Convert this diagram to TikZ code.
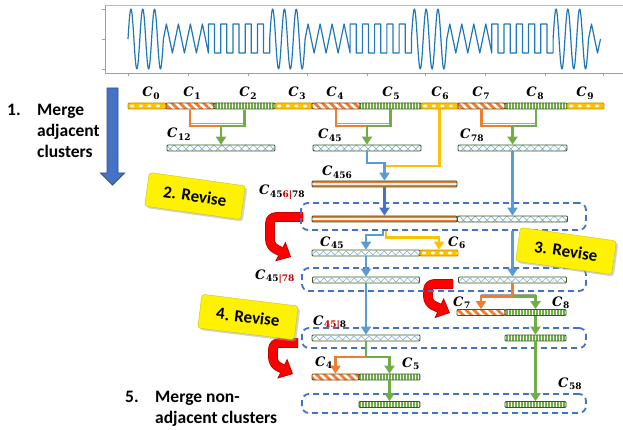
\documentclass[tikz,border=0pt]{standalone}
\usepackage{fontspec}
\newfontfamily\cfont{Carlito}
\newfontfamily\lfont{DejaVu Serif}
\usetikzlibrary{arrows.meta,patterns.meta,shadows}

\definecolor{sigblue}{HTML}{1F77B4}
\definecolor{corange}{HTML}{ED7D31}
\definecolor{cgreen}{HTML}{70AD47}
\definecolor{cblue}{HTML}{5B9BD5}
\definecolor{dblue}{HTML}{4472C4}
\definecolor{cyellow}{HTML}{FFC000}
\definecolor{barline}{HTML}{385723}
\definecolor{ybarline}{HTML}{BF9000}
\definecolor{obarline}{HTML}{843C0C}
\definecolor{darkred}{HTML}{C00000}
\definecolor{axisgray}{HTML}{A0A0A0}

% cluster label: bold italic C with a bold subscript
\newcommand\Csub[1]{{\lfont\bfseries\itshape C}\kern0.6pt\raisebox{-2.6pt}{\lfont\fontsize{9}{9}\selectfont\bfseries #1}}

% one period group of the signal: sine, triangle, square
\newcommand\siggroup[1]{%
  \draw[sig] plot[domain=0:35.4,samples=71] ({#1+\x},{39-30*sin(\x*360/11.8)})
    \foreach \k in {0,...,3} { -- ({#1+35.4+12*\k+3},24) -- ({#1+35.4+12*\k+9},53) }
    \foreach \k in {0,...,4} { -- ({#1+80.4+12.26*\k},24) -- ({#1+80.4+12.26*\k+6.13},24)
                               -- ({#1+80.4+12.26*\k+6.13},53) -- ({#1+80.4+12.26*(\k+1)},53) }
    -- ({#1+141.7},39);}

\tikzset{
  sig/.style={sigblue, line width=1.2pt, line join=round},
  cbar/.style={draw=barline, line width=0.8pt, inner sep=0pt, minimum height=6pt, rounded corners=1pt},
  cybar/.style={cbar, draw=ybarline, path picture={
      \fill[cyellow] (path picture bounding box.south west) rectangle (path picture bounding box.north east);
      \foreach \k in {0,...,9}
        \fill[white] ([xshift=\k*8.6pt+2.2pt,yshift=1.7pt]path picture bounding box.south west) rectangle ++(4pt,2.6pt);}},
  cobar/.style={cbar, draw=obarline, pattern={Lines[angle=-45,distance=5.6pt,line width=2.8pt]}, pattern color=corange},
  cgbar/.style={cbar, pattern={Lines[angle=90,distance=3pt,line width=1.4pt]}, pattern color=cgreen},
  cxbar/.style={cbar, pattern={Hatch[angle=45,distance=5.6pt,line width=0.6pt]}, pattern color=cblue!80},
  czbar/.style={cbar, path picture={
      \draw[cblue!80, line width=0.6pt, sharp corners] ([yshift=1pt]path picture bounding box.south west)
        \foreach \k in {1,...,16} { -- ++(3.8pt,4pt) -- ++(3.8pt,-4pt) };}},
  csbar/.style={cbar, path picture={
      \fill[corange] (path picture bounding box.south west) rectangle (path picture bounding box.north east);
      \draw[corange!12, line width=1.6pt] (path picture bounding box.west) -- (path picture bounding box.east);}},
  ol/.style={corange, line width=2.6pt},
  gl/.style={cgreen, line width=2.6pt},
  bl/.style={cblue, line width=2.6pt},
  yl/.style={cyellow, line width=2.6pt},
  dbl/.style={dblue, line width=2.6pt},
  headed/.style={-{Triangle[width=10pt,length=8pt]}},
  gthin/.style={gray!70, line width=0.6pt},
  dbox/.style={draw=dblue, dash pattern=on 6pt off 4pt, line width=1.8pt, rounded corners=7pt, inner sep=0pt},
  sticky/.style={fill=yellow, draw=yellow!75!black, line width=0.4pt, rounded corners=3pt,
      minimum width=97pt, minimum height=34pt, inner sep=0pt,
      font=\cfont\bfseries\fontsize{17}{20}\selectfont,
      drop shadow={shadow xshift=2pt, shadow yshift=-2pt, fill=black!35}},
  lab/.style={inner sep=0pt, font=\fontsize{13}{15}\selectfont},
  ltext/.style={inner sep=0pt, anchor=base west, font=\cfont\bfseries\fontsize{17.5}{20}\selectfont},
  redarr/.style={rounded corners=6pt},
}

\begin{document}
\begin{tikzpicture}[x=1pt,y=-1pt]
\useasboundingbox (0,0) rectangle (623,430);

% ---- signal plot ----
\draw[axisgray!70, line width=0.8pt] (105,5) -- (623,5);
\draw[axisgray, line width=0.8pt] (105,5) -- (105,73) -- (623,73);
\foreach \yy in {9,39,69} \draw[axisgray, line width=0.8pt] (105,\yy) -- (102,\yy);
\foreach \xx in {128,188,248,307,367,425,485,545,603} \draw[axisgray, line width=0.8pt] (\xx,73) -- (\xx,76);
\siggroup{128}
\siggroup{269.7}
\siggroup{411.4}
\draw[sig] plot[domain=0:35.4,samples=71] ({553.1+\x},{39-30*sin(\x*360/11.8)})
  -- (591.5,24) -- (597.5,53) -- (600.5,39);

% ---- step 1 arrow and texts ----
\draw[fill=dblue, draw=dblue!70!black, line width=0.8pt]
  (107,88) -- (118,88) -- (118,173) -- (124.5,173) -- (112.5,185) -- (100.5,173) -- (107,173) -- cycle;
\node[ltext] (n1) at (7,116) {1.};
\node[ltext] (t1a) at (37,116) {Merge};
\node[ltext] (t1b) at (37,137) {adjacent};
\node[ltext] (t1c) at (37,158) {clusters};
\node[ltext] (n5) at (125,402) {5.};
\node[ltext] (t5a) at (155,402) {Merge non-};
\node[ltext] (t5b) at (155,423) {adjacent clusters};

% ---- initial clusters ----
\node[cybar, minimum width=38pt] (c0) at (147,106) {};
\node[cobar, minimum width=48pt] (c1) at (190,106) {};
\node[cgbar, minimum width=61pt] (c2) at (244.5,106) {};
\node[cybar, minimum width=37pt] (c3) at (293.5,106) {};
\node[cobar, minimum width=48pt] (c4) at (336,106) {};
\node[cgbar, minimum width=61pt] (c5) at (390.5,106) {};
\node[cybar, minimum width=37pt] (c6) at (439.5,106) {};
\node[cobar, minimum width=47pt] (c7) at (481.5,106) {};
\node[cgbar, minimum width=62pt] (c8) at (536,106) {};
\node[cybar, minimum width=37pt] (c9) at (585.5,106) {};
\foreach \i/\xx in {0/151,1/192,2/248,3/297,4/335,5/391,6/440,7/481,8/535,9/585}
  \node[lab, anchor=base] (l\i) at (\xx,97) {\Csub{\i}};

% ---- adjacent merges ----
\node[cxbar, minimum width=108pt] (c12) at (221,148) {};
\node[cxbar, minimum width=108pt] (c45) at (367,148) {};
\node[cxbar, minimum width=109pt] (c78) at (512.5,148) {};
\node[lab, anchor=base west] (l12) at (167,138) {\Csub{12}};
\node[lab, anchor=base west] (l45) at (318,139) {\Csub{45}};
\node[lab, anchor=base west] (l78) at (460,139) {\Csub{78}};

\coordinate (j12) at (221,126);   \coordinate (g12) at (221,123.5);
\coordinate (j45) at (367,126);   \coordinate (g45) at (367,123.5);
\coordinate (j78) at (512.5,126); \coordinate (g78) at (512.5,123.5);
\draw[gthin] (c1.south |- g12) -- (c2.south |- g12);
\draw[gthin] (c4.south |- g45) -- (c5.south |- g45);
\draw[gthin] (c7.south |- g78) -- (c8.south |- g78);
\draw[ol] (c1.south) |- (j12);
\draw[gl, headed] (c2.south) |- (j12) -- (c12.north);
\draw[ol] (c4.south) |- (j45);
\draw[gl, headed] (c5.south) |- (j45) -- (c45.north);
\draw[ol] (c7.south) |- (j78);
\draw[gl, headed] (c8.south) |- (j78) -- (c78.north);

% ---- C456 ----
\node[csbar, minimum width=145pt] (c456) at (384.5,184) {};
\node[lab, anchor=base west] (l456) at (322,176) {\Csub{456}};
\coordinate (j456) at (384.5,163);
\coordinate (j456y) at (384.5,166);
\draw[yl] (c6.south) |- (j456y);
\draw[bl, headed] (c45.south) |- (j456) -- (c456.north);

% ---- revise arrows ----
\draw[redarr, darkred, line width=9.6pt, -{Triangle[length=12pt,width=22pt,fill=red,line width=0.8pt]}]
  (303,217) -- (270,217) -- (270,246) -- (291,257);
\draw[redarr, red, line width=8pt, shorten >=10.5pt] (303,217) -- (270,217) -- (270,246) -- (291,257);
\draw[redarr, darkred, line width=9.6pt, -{Triangle[length=12pt,width=22pt,fill=red,line width=0.8pt]}]
  (453,284) -- (428,284) -- (428,303) -- (450,313);
\draw[redarr, red, line width=8pt, shorten >=10.5pt] (453,284) -- (428,284) -- (428,303) -- (450,313);
\draw[redarr, darkred, line width=9.6pt, -{Triangle[length=12pt,width=22pt,fill=red,line width=0.8pt]}]
  (298,343) -- (273,343) -- (273,364) -- (293,374);
\draw[redarr, red, line width=8pt, shorten >=10.5pt] (298,343) -- (273,343) -- (273,364) -- (293,374);

% ---- row C456|78 ----
\node[dbox, minimum width=285pt, minimum height=27pt] (box1) at (443.5,216.5) {};
\node[csbar, minimum width=145pt] (r1a) at (384.5,219) {};
\node[cxbar, minimum width=110pt] (r1b) at (512.5,219) {};
\node[lab, anchor=base west] (l456b) at (259,195) {\Csub{45\textcolor{darkred}{6|}78}};
\draw[dbl, headed] (c456.south) -- (r1a.north);
\draw[bl, headed] (c78.south) -- (r1b.north);

% ---- C45 and C6 split ----
\node[czbar, minimum width=108pt] (c45b) at (366,253) {};
\node[cybar, minimum width=38pt] (c6b) at (439,253) {};
\node[lab, anchor=base west] (l45b) at (320,246) {\Csub{45}};
\node[lab, anchor=base west] (l6b) at (448,246) {\Csub{6}};
\coordinate (jb) at (383,235);
\coordinate (jy) at (386,237.5);
\draw[yl, headed] (jy |- box1.south) |- (c6b.north |- jy) -- (c6b.north);
\draw[bl, headed] (jb |- box1.south) |- (c45b.north |- jb) -- (c45b.north);

% ---- row C45|78 ----
\node[dbox, minimum width=284pt, minimum height=23pt] (box2) at (444,279.5) {};
\node[czbar, minimum width=107pt] (r2a) at (366,280) {};
\node[czbar, minimum width=108pt] (r2b) at (512.5,280) {};
\node[lab, anchor=base west] (l4578) at (255,279) {\Csub{45\textcolor{darkred}{|78}}};
\draw[bl, headed] (c45b.south) -- (r2a.north);
\draw[bl, headed] (r1b.south |- box1.south) -- (r2b.north);

% ---- C7 and C8 split ----
\node[cobar, minimum width=48pt] (c7b) at (481,312.5) {};
\node[cgbar, minimum width=61pt] (c8b) at (535.5,312.5) {};
\node[lab, anchor=base west] (l7b) at (453,306) {\Csub{7}};
\node[lab, anchor=base west] (l8b) at (552,306) {\Csub{8}};
\coordinate (j78b) at (512.5,296.5);
\coordinate (g78b) at (512.5,294);
\draw[gthin] (c7b.north |- g78b) -- (c8b.north |- g78b);
\draw[ol, headed] (r2b.south) |- (c7b.north |- j78b) -- (c7b.north);
\draw[gl, headed] (j78b) -| (c8b.north);

% ---- row C45|8 ----
\node[dbox, minimum width=284pt, minimum height=20pt] (box3) at (444,338) {};
\node[czbar, minimum width=108pt] (r3a) at (366,338) {};
\node[cgbar, minimum width=61pt] (r3b) at (535.5,338) {};
\node[lab, anchor=base west] (l458) at (313,325) {\Csub{\textcolor{darkred}{45|}8}};
\draw[bl, headed] (r2a.south) -- (r3a.north);
\draw[gl, headed] (c8b.south) -- (r3b.north);

% ---- C4 and C5 split ----
\node[cobar, minimum width=47pt] (c4b) at (335.5,377) {};
\node[cgbar, minimum width=61pt] (c5b) at (389.5,377) {};
\node[lab, anchor=base west] (l4b) at (315,366) {\Csub{4}};
\node[lab, anchor=base west] (l5b) at (402,367) {\Csub{5}};
\coordinate (j45b) at (366,357);
\draw[ol, headed] (j45b) -| (c4b.north);
\draw[gl] (r3a.south) -- (j45b);
\draw[gl, headed] (j45b) -| (c5b.north);

% ---- final row ----
\node[dbox, minimum width=284pt, minimum height=19pt] (box4) at (444,403.5) {};
\node[cgbar, minimum width=61pt] (r4a) at (389.5,404.5) {};
\node[cgbar, minimum width=61pt] (r4b) at (535.5,404.5) {};
\node[lab, anchor=base west] (l58) at (558,387) {\Csub{58}};
\draw[gl, headed] (c5b.south) -- (r4a.north);
\draw[gl, headed] (r3b.south) -- (r4b.north);

% ---- revise notes ----
\node[sticky, rotate=-8] (rev2) at (195,196) {2. Revise};
\node[sticky, rotate=-8] (rev3) at (566,251) {3. Revise};
\node[sticky, rotate=-7] (rev4) at (248,317) {4. Revise};
\end{tikzpicture}
\end{document}
